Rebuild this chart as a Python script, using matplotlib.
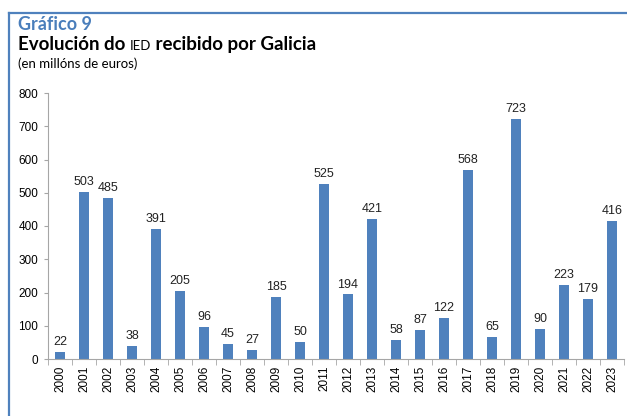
import matplotlib
matplotlib.use("Agg")
import matplotlib.pyplot as plt
from matplotlib.lines import Line2D
import numpy as np

years = [str(y) for y in range(2000, 2024)]
values = [22, 503, 485, 38, 391, 205, 96, 45, 27, 185, 50, 525, 194, 421,
          58, 87, 122, 568, 65, 723, 90, 223, 179, 416]
yticks = [0, 100, 200, 300, 400, 500, 600, 700, 800]

BLUE = '#4f81bd'
TITLE_BLUE = '#4a7ebb'
GREY = '#a6a6a6'

plt.rcParams['font.family'] = ['Liberation Sans', 'DejaVu Sans']

fig = plt.figure(figsize=(6.27, 4.16), dpi=100)
ax = fig.add_axes([48 / 627, 57 / 416, 576 / 627, 266 / 416])

x = np.arange(len(years))
ax.bar(x, values, width=0.42, color=BLUE, zorder=2)
for xi, v in zip(x, values):
    ax.text(xi, v + 12, str(v), ha='center', va='bottom', fontsize=9, color='#222222')

ax.set_xlim(-0.5, len(years) - 0.5)
ax.set_ylim(0, 800)
ax.set_yticks(yticks)
ax.set_yticklabels([str(t) for t in yticks], fontsize=8.5)
ax.set_xticks(x)
ax.set_xticklabels(years, rotation=90, fontsize=8.5)
ax.tick_params(axis='x', length=0, pad=5)
ax.set_xticks(np.arange(-0.5, len(years)), minor=True)
ax.tick_params(axis='x', which='minor', length=4, color=GREY, direction='out')
ax.tick_params(axis='y', length=3, color=GREY, pad=4)
for s in ['top', 'right']:
    ax.spines[s].set_visible(False)
ax.spines['left'].set_color(GREY)
ax.spines['bottom'].set_color(GREY)

# frame lines
fig.add_artist(Line2D([9 / 627, 1.0], [1 - 13 / 416, 1 - 13 / 416], transform=fig.transFigure,
                      color=BLUE, lw=1.6))
fig.add_artist(Line2D([9 / 627, 9 / 627], [0, 1 - 13 / 416], transform=fig.transFigure,
                      color=BLUE, lw=1.6))

# titles
fig.text(18 / 627, 1 - 30 / 416, 'Gráfico 9', fontsize=13, fontweight='bold',
         color=TITLE_BLUE, family='Lato')
renderer = fig.canvas.get_renderer()
base_y = 1 - 50 / 416
xpos = 18 / 627
for txt, size, weight in [('Evolución do ', 13.5, 'bold'), ('IED', 9.5, 'normal'),
                          (' recibido por Galicia', 13.5, 'bold')]:
    t = fig.text(xpos, base_y, txt, fontsize=size, fontweight=weight, color='black',
                 family='Lato', va='baseline')
    bb = t.get_window_extent(renderer)
    xpos = bb.x1 / fig.bbox.width
fig.text(18 / 627, 1 - 68 / 416, '(en millóns de euros)', fontsize=9.5, color='black',
         family='Lato', va='baseline')

fig.savefig('out.png', dpi=100)
